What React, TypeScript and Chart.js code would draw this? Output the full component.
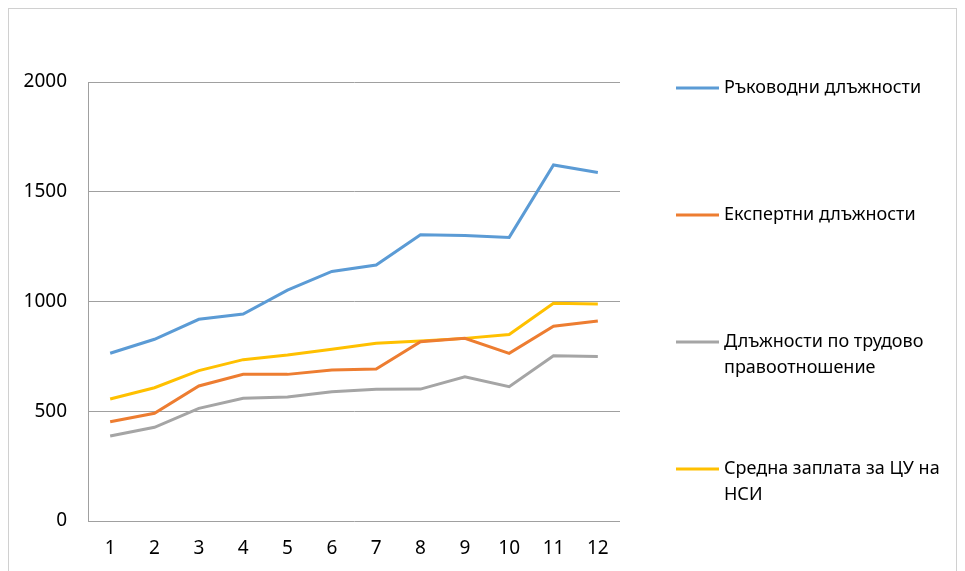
import React, { useEffect, useRef } from "react";
import { Chart, registerables } from "chart.js";

Chart.register(...registerables);

const categories = ["1", "2", "3", "4", "5", "6", "7", "8", "9", "10", "11", "12"];
const leadership = [764, 828, 919, 943, 1052, 1137, 1166, 1304, 1301, 1292, 1622, 1588];
const expert = [452, 491, 615, 668, 668, 688, 692, 817, 832, 764, 887, 911];
const labour = [387, 427, 513, 559, 565, 589, 600, 601, 657, 612, 753, 749];
const average = [556, 607, 685, 735, 756, 782, 810, 820, 832, 850, 992, 989];

const seriesLabels = [
  ["Ръководни длъжности"],
  ["Експертни длъжности"],
  ["Длъжности по трудово", "правоотношение"],
  ["Средна заплата за ЦУ на", "НСИ"],
];
const seriesColors = ["#5B9BD5", "#ED7D31", "#A5A5A5", "#FFC000"];

const FONT = "'Noto Sans', 'Open Sans', sans-serif";

const legendPlugin = {
  id: "sideLegend",
  afterDraw(chart: any) {
    const ctx = chart.ctx;
    ctx.save();
    ctx.font = `18px ${FONT}`;
    ctx.textBaseline = "middle";
    ctx.textAlign = "left";
    chart.data.datasets.forEach((ds: any, i: number) => {
      const y = 79 + 127 * i;
      ctx.strokeStyle = ds.borderColor;
      ctx.lineWidth = 3;
      ctx.beginPath();
      ctx.moveTo(667, y);
      ctx.lineTo(710, y);
      ctx.stroke();
      ctx.fillStyle = "#000";
      const lines: string[] = ds.legendLines;
      lines.forEach((t, k) => {
        ctx.fillText(t, 715, y + k * 25.5);
      });
    });
    ctx.restore();
  },
};

export default function App() {
  const ref = useRef<HTMLCanvasElement>(null);
  useEffect(() => {
    if (!ref.current) return;
    const seriesData = [leadership, expert, labour, average];
    const chart = new Chart(ref.current, {
      type: "line",
      data: {
        labels: categories,
        datasets: seriesData.map((d, i) => ({
          label: seriesLabels[i].join(" "),
          legendLines: seriesLabels[i],
          data: d,
          borderColor: seriesColors[i],
          backgroundColor: seriesColors[i],
          borderWidth: 3,
          pointRadius: 0,
          tension: 0,
          fill: false,
        })) as any,
      },
      options: {
        responsive: false,
        animation: false,
        devicePixelRatio: 1,
        layout: { padding: { top: 73, right: 336, left: 0, bottom: 0 } },
        plugins: { legend: { display: false }, tooltip: { enabled: false } },
        scales: {
          x: {
            offset: true,
            grid: { display: false, drawTicks: false },
            border: { display: false },
            ticks: { color: "#000", font: { family: FONT, size: 19 }, padding: 16, maxRotation: 0 },
            afterFit: (s: any) => {
              s.height = 50;
            },
          },
          y: {
            min: 0,
            max: 2000,
            ticks: {
              stepSize: 500,
              color: "#000",
              font: { family: FONT, size: 19 },
              padding: 21,
              callback: (v: any) => String(v),
            },
            grid: { color: "#a0a0a0", lineWidth: 1, drawTicks: false },
            border: { display: true, color: "#a0a0a0", width: 1 },
            afterFit: (s: any) => {
              s.width = 79;
            },
          },
        },
      },
      plugins: [legendPlugin],
    });
    return () => chart.destroy();
  }, []);
  return (
    <div style={{ width: 947, height: 562, border: "1px solid #d0d0d0", background: "#fff" }}>
      <canvas ref={ref} width={947} height={562} style={{ display: "block" }} />
    </div>
  );
}
